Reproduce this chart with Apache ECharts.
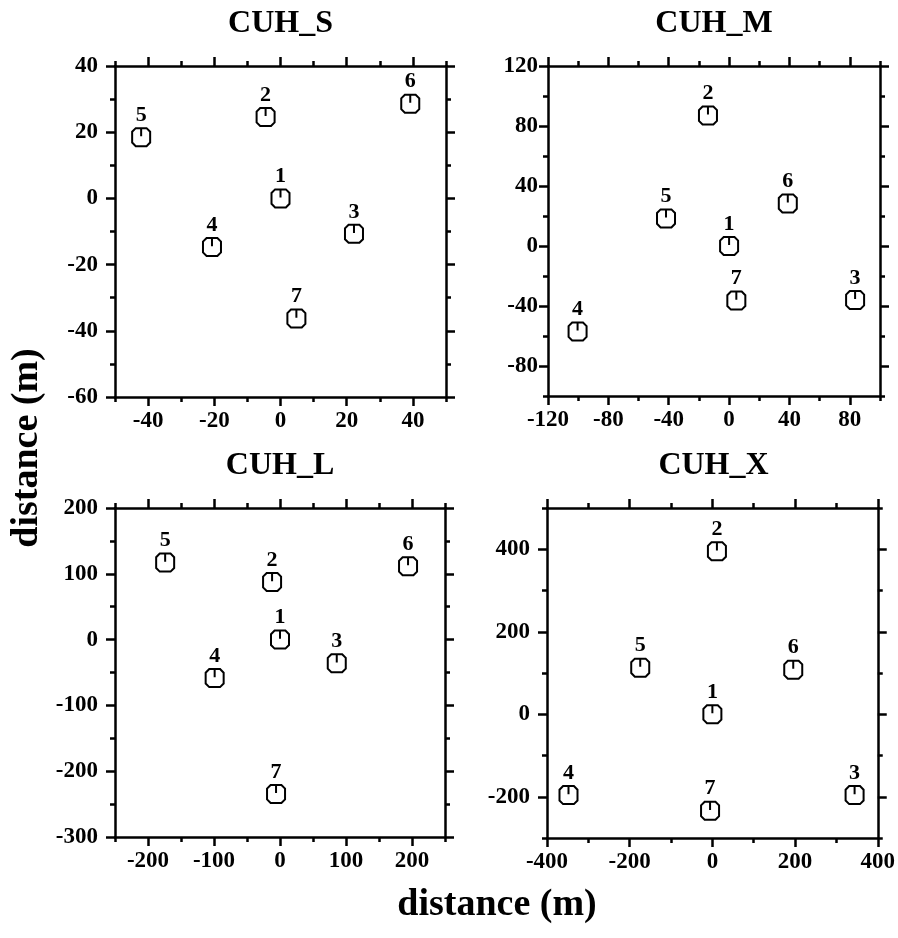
<!DOCTYPE html>
<html>
<head>
<meta charset="utf-8">
<script src="https://cdn.jsdelivr.net/npm/echarts@6/dist/echarts.min.js"></script>
<style>
  html, body { margin: 0; padding: 0; background: #fff; }
  #chart { width: 898px; height: 938px; }
</style>
</head>
<body>
<div id="chart"></div>
<script>
// Station ids, one per receiver
const stations = ['1', '2', '3', '4', '5', '6', '7'];

// Receiver positions (m) for each array size
const sX = [0, -4.5, 22.2, -20.7, -42.1, 39.2, 4.8];
const sY = [0, 24.6, -10.7, -14.7, 18.5, 28.6, -36.3];
const mX = [0, -14, 83.5, -100.4, -41.8, 38.9, 4.8];
const mY = [0, 87, -36, -57, 18.4, 28.4, -36.4];
const lX = [0, -12, 86, -99, -174, 194, -6];
const lY = [0, 87.5, -36, -58.5, 117, 111.5, -234.6];
const xX = [0, 11, 344, -348, -174.5, 195.6, -5.6];
const xY = [0, 395, -196, -196, 113, 108, -234];

// Axis ranges, labelled ticks and minor ticks
const sRangeX = [-50, 50], sLabelsX = [-40, -20, 0, 20, 40], sMinorX = [-50, -30, -10, 10, 30, 50];
const sRangeY = [-60, 40], sLabelsY = [-60, -40, -20, 0, 20, 40], sMinorY = [-50, -30, -10, 10, 30];
const mRangeX = [-120, 100], mLabelsX = [-120, -80, -40, 0, 40, 80], mMinorX = [-100, -60, -20, 20, 60, 100];
const mRangeY = [-100, 120], mLabelsY = [-80, -40, 0, 40, 80, 120], mMinorY = [-100, -60, -20, 20, 60, 100];
const lRangeX = [-250, 250], lLabelsX = [-200, -100, 0, 100, 200], lMinorX = [-250, -150, -50, 50, 150, 250];
const lRangeY = [-300, 200], lLabelsY = [-300, -200, -100, 0, 100, 200], lMinorY = [-250, -150, -50, 50, 150];
const xRangeX = [-400, 400], xLabelsX = [-400, -200, 0, 200, 400], xMinorX = [-300, -100, 100, 300];
const xRangeY = [-300, 500], xLabelsY = [-200, 0, 200, 400], xMinorY = [-300, -100, 100, 300, 500];

const panelTitles = ['CUH_S', 'CUH_M', 'CUH_L', 'CUH_X'];
const axisTitle = 'distance (m)';

const FONT = '"Liberation Serif", "Times New Roman", Times, serif';
const INK = '#000';
const LINE_W = 2.5;

const panels = [
  { title: panelTitles[0], xs: sX, ys: sY, rx: sRangeX, lx: sLabelsX, nx: sMinorX, ry: sRangeY, ly: sLabelsY, ny: sMinorY,
    grid: { left: 115, top: 66, width: 331, height: 331 }, yMargin: 17 },
  { title: panelTitles[1], xs: mX, ys: mY, rx: mRangeX, lx: mLabelsX, nx: mMinorX, ry: mRangeY, ly: mLabelsY, ny: mMinorY,
    grid: { left: 548, top: 66, width: 332, height: 330 }, yMargin: 10 },
  { title: panelTitles[2], xs: lX, ys: lY, rx: lRangeX, lx: lLabelsX, nx: lMinorX, ry: lRangeY, ly: lLabelsY, ny: lMinorY,
    grid: { left: 115, top: 508, width: 330, height: 329 }, yMargin: 17 },
  { title: panelTitles[3], xs: xX, ys: xY, rx: xRangeX, lx: xLabelsX, nx: xMinorX, ry: xRangeY, ly: xLabelsY, ny: xMinorY,
    grid: { left: 547, top: 508, width: 333, height: 330 }, yMargin: 17 }
];

// Four axes per direction: labelled side (major + minor ticks) and mirrored side (major + minor ticks)
function boxAxes(dir, gi, range, labels, minors, margin) {
  const sides = dir === 'x' ? ['bottom', 'top'] : ['left', 'right'];
  const base = {
    gridIndex: gi, type: 'value', min: range[0], max: range[1],
    splitLine: { show: false }, silent: true
  };
  const mk = (side, showLine, ticks, len, showLabel) => Object.assign({}, base, {
    position: side,
    axisLine: { show: showLine, onZero: false, lineStyle: { color: INK, width: LINE_W } },
    axisTick: { show: true, inside: false, length: len, customValues: ticks,
                lineStyle: { color: INK, width: LINE_W } },
    axisLabel: showLabel ? {
      show: true, customValues: labels, margin: margin,
      fontFamily: FONT, fontWeight: 'bold', fontSize: 23, color: INK
    } : { show: false }
  });
  return [
    mk(sides[0], true, labels, 9, true),
    mk(sides[0], false, minors, 5, false),
    mk(sides[1], true, labels, 9, false),
    mk(sides[1], false, minors, 5, false)
  ];
}

// Octagonal receiver symbol with a short north mark
const receiverSymbol = 'path://M4,0 L16,0 L20,4 L20,16 L16,20 L4,20 L0,16 L0,4 Z M10,0 L10,9';

const grids = [], xAxes = [], yAxes = [], series = [], graphics = [];
panels.forEach((p, gi) => {
  grids.push(Object.assign({ containLabel: false }, p.grid));
  xAxes.push(...boxAxes('x', gi, p.rx, p.lx, p.nx, 13));
  yAxes.push(...boxAxes('y', gi, p.ry, p.ly, p.ny, p.yMargin));
  series.push({
    type: 'scatter',
    xAxisIndex: gi * 4, yAxisIndex: gi * 4,
    data: stations.map((s, i) => [p.xs[i], p.ys[i], s]),
    symbol: receiverSymbol,
    symbolSize: 18,
    itemStyle: { color: 'rgba(0,0,0,0)', borderColor: INK, borderWidth: 2, opacity: 1 },
    label: {
      show: true, position: 'top', distance: 1,
      formatter: (d) => d.data[2],
      fontFamily: FONT, fontWeight: 'bold', fontSize: 22, color: INK, opacity: 1
    },
    emphasis: { disabled: true },
    silent: true
  });
  graphics.push({
    type: 'text',
    x: p.grid.left + p.grid.width / 2,
    y: p.grid.top - 42,
    style: { text: p.title, align: 'center', verticalAlign: 'middle',
             fontFamily: FONT, fontWeight: 'bold', fontSize: 32, fill: INK }
  });
});

// Shared axis titles
graphics.push({
  type: 'text', x: 497, y: 905,
  style: { text: axisTitle, align: 'center', verticalAlign: 'middle',
           fontFamily: FONT, fontWeight: 'bold', fontSize: 38, fill: INK }
});
graphics.push({
  type: 'text', x: 27, y: 448, rotation: Math.PI / 2,
  style: { text: axisTitle, align: 'center', verticalAlign: 'middle',
           fontFamily: FONT, fontWeight: 'bold', fontSize: 38, fill: INK }
});

const chart = echarts.init(document.getElementById('chart'), null, { renderer: 'canvas' });
chart.setOption({
  animation: false,
  backgroundColor: '#fff',
  grid: grids,
  xAxis: xAxes,
  yAxis: yAxes,
  series: series,
  graphic: graphics
});
</script>
</body>
</html>
